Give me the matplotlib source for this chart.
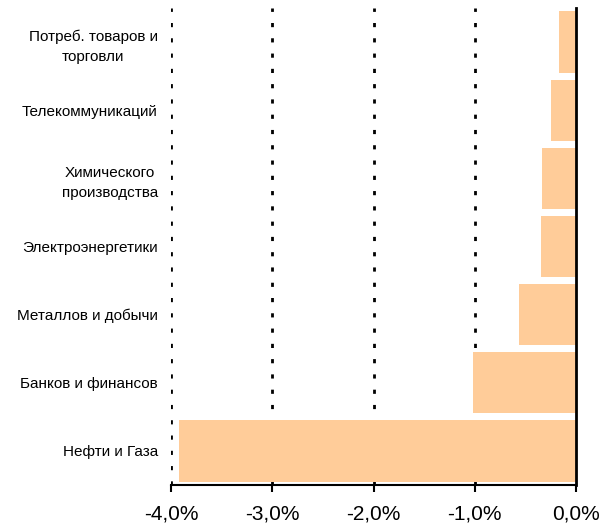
import matplotlib.pyplot as plt
from matplotlib.ticker import FuncFormatter

plt.rcParams['font.family'] = ['Liberation Sans', 'DejaVu Sans']

sectors = ["Нефти и Газа", "Банков и финансов", "Металлов и добычи",
           "Электроэнергетики", "Химического\nпроизводства",
           "Телекоммуникаций", "Потреб. товаров и\nторговли"]
changes = [-3.92, -1.02, -0.56, -0.35, -0.34, -0.25, -0.17]
ticks = [-4, -3, -2, -1, 0]

fig = plt.figure(figsize=(6.02, 5.24), dpi=100)
ax = fig.add_axes([171 / 602, 1 - 485 / 524, 405 / 602, 477 / 524])

ypos = list(range(len(sectors)))
ax.barh(ypos, changes, height=0.9, color='#FFCC99', zorder=2)

for t in ticks[:-1]:
    ax.axvline(t, color='black', lw=2, linestyle=(0, (1.5, 4)), zorder=1)

ax.set_xlim(-4, 0)
ax.set_ylim(-0.5, len(sectors) - 0.5)
ax.set_xticks(ticks)
ax.xaxis.set_major_formatter(FuncFormatter(lambda v, p: ("%.1f%%" % v).replace('.', ',')))
ax.tick_params(axis='x', labelsize=15, length=5, width=1.5, direction='out', pad=9)
ax.set_yticks(ypos)
ax.set_yticklabels(sectors, fontsize=11, multialignment='center', linespacing=1.55)
ax.tick_params(axis='y', length=0, pad=9.5)

ax.spines['top'].set_visible(False)
ax.spines['left'].set_visible(False)
ax.spines['right'].set_linewidth(2)
ax.spines['bottom'].set_linewidth(1.5)

fig.savefig('out.png', dpi=100)
